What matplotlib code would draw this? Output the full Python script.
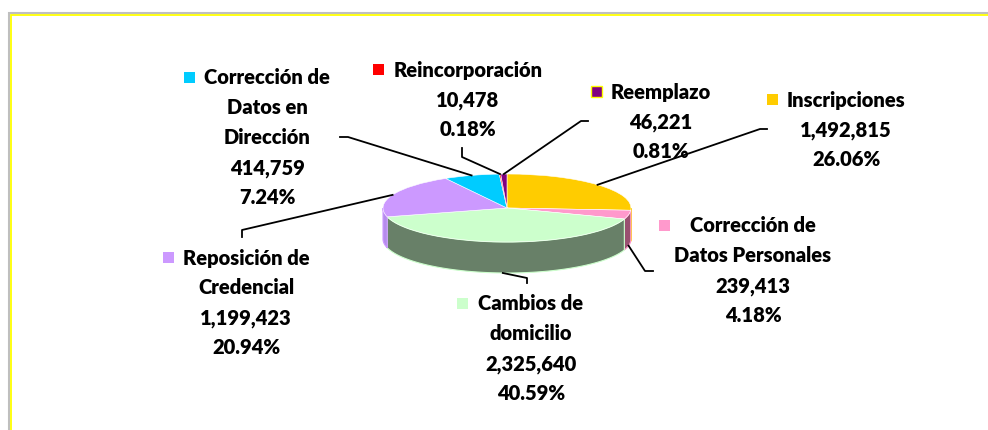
import numpy as np
import matplotlib
matplotlib.use("Agg")
import matplotlib.pyplot as plt
from matplotlib.patches import Wedge, Polygon, Rectangle
from matplotlib.transforms import Affine2D

# data
categories = ["Inscripciones", "Corrección de Datos Personales", "Cambios de domicilio",
              "Reposición de Credencial", "Corrección de Datos en Dirección",
              "Reincorporación", "Reemplazo"]
values = [1492815, 239413, 2325640, 1199423, 414759, 10478, 46221]
percents = ["26.06%", "4.18%", "40.59%", "20.94%", "7.24%", "0.18%", "0.81%"]
label_lines = [["Inscripciones"],
               ["Corrección de", "Datos Personales"],
               ["Cambios de", "domicilio"],
               ["Reposición de", "Credencial"],
               ["Corrección de", "Datos en", "Dirección"],
               ["Reincorporación"],
               ["Reemplazo"]]
top_colors = ["#FFCC00", "#FF99CC", "#CCFFCC", "#CC99FF", "#00CCFF", "#FF0000", "#800080"]
side_colors = ["#B38F00", "#995070", "#688068", "#B58CEB", "#0090B3", "#B30000", "#5A005A"]

# label placement (text centre x, first line y), leader elbow points, square gap
label_pos = [(846, 100), (753, 226), (531, 304), (246, 258), (267, 78), (468, 70), (661, 92)]
leader_pts = [[(767, 129), (760, 129)],
              [(653, 271), (645, 271)],
              [(527, 283), (527, 278)],
              [(242, 237), (242, 230)],
              [(340, 137), (348, 137)],
              [(462, 148), (462, 157)],
              [(588, 121), (581, 121)]]
sq_gap = [9, 20, 10, 9, 9, 9, 9]

# pie geometry (pixels)
cx, cy, rx, ry, depth = 507, 208, 124, 34, 31

fig = plt.figure(figsize=(9.88, 4.30), dpi=100)
ax = fig.add_axes([0, 0, 1, 1])
ax.set_xlim(0, 988)
ax.set_ylim(430, 0)
ax.axis("off")

# frame
ax.plot([8.8, 8.8, 988], [430, 13, 13], color="#BFBFBF", lw=1.5, solid_joinstyle="miter")
ax.plot([10.8, 10.8, 988], [430, 14.8, 14.8], color="#FFFF00", lw=1.3, solid_joinstyle="miter")

vals = np.array(values, dtype=float)
frac = vals / vals.sum()
cum = np.concatenate([[0], np.cumsum(frac)])
# clockwise from 12 o'clock
t1 = 90 - cum[1:] * 360
t2 = 90 - cum[:-1] * 360


def ell(a):
    a = np.radians(a)
    return cx + rx * np.cos(a), cy - ry * np.sin(a)


# side walls (front half only)
for i in range(len(values)):
    a0, a1 = t1[i], t2[i]
    for lo, hi in [(-180, 0), (-540, -360), (180, 360)]:
        s, e = max(a0, lo), min(a1, hi)
        if e > s:
            ang = np.linspace(s, e, 80)
            x, y = ell(ang)
            xs = np.concatenate([x, x[::-1]])
            ys = np.concatenate([y, (y + depth)[::-1]])
            ax.add_patch(Polygon(np.column_stack([xs, ys]), closed=True,
                                 facecolor=side_colors[i], edgecolor=top_colors[i], lw=0.8))

# top faces
tr = Affine2D().scale(rx, -ry).translate(cx, cy) + ax.transData
for i in range(len(values)):
    ax.add_patch(Wedge((0, 0), 1, t1[i], t2[i], transform=tr,
                       facecolor=top_colors[i], edgecolor="white", lw=0.4))

# leader lines
for i in range(len(values)):
    mid = (t1[i] + t2[i]) / 2
    px, py = ell(mid)
    if np.sin(np.radians(mid)) < 0:
        py = py + depth
    pts = leader_pts[i] + [(px, py)]
    ax.plot([p[0] for p in pts], [p[1] for p in pts], color="black", lw=1.3)

# labels
font = dict(family=["Lato", "DejaVu Sans"], weight="heavy", size=14.5, color="black")
fig.canvas.draw()
rend = fig.canvas.get_renderer()
step = 30
for i in range(len(values)):
    lx, ly = label_pos[i]
    lines = label_lines[i] + ["{:,}".format(values[i]), percents[i]]
    for k, line in enumerate(lines):
        t = ax.text(lx, ly + k * step, line, ha="center", va="center", **font)
        if k == 0:
            bb = t.get_window_extent(renderer=rend)
            left = bb.x0
            sq = 11
            ax.add_patch(Rectangle((left - sq_gap[i] - sq, ly - sq / 2 - 1), sq, sq,
                                   facecolor=top_colors[i],
                                   edgecolor="#FFFF00" if i == 6 else "none", lw=1))

fig.savefig("out.png", dpi=100)
